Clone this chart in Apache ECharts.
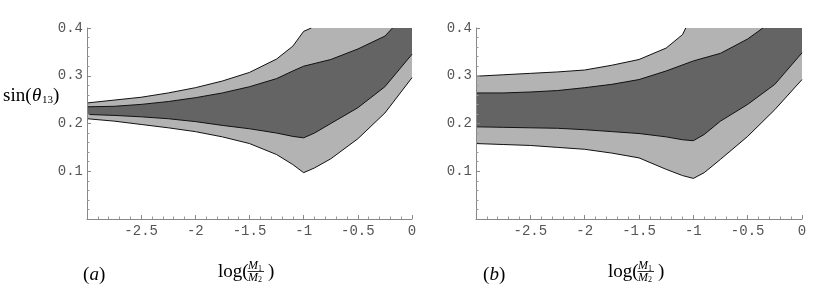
<!DOCTYPE html>
<html>
<head>
<meta charset="utf-8">
<script src="https://cdn.jsdelivr.net/npm/echarts@6/dist/echarts.min.js"></script>
<style>
html,body{margin:0;padding:0;background:#fff;}
#chart{width:816px;height:300px;}
</style>
</head>
<body>
<div id="chart"></div>
<script>
// ---- data (x = log(M1/M2), y = sin(theta13)) ----
// panel (a)
const aOuterUpper = [[-3,0.243],[-2.75,0.249],[-2.5,0.255],[-2.25,0.264],[-2,0.275],[-1.75,0.289],[-1.5,0.307],[-1.25,0.335],[-1.1,0.362],[-1,0.393],[-0.93,0.4],[0,0.4]];
const aInnerUpper = [[-3,0.235],[-2.75,0.236],[-2.5,0.240],[-2.25,0.246],[-2,0.254],[-1.75,0.264],[-1.5,0.277],[-1.25,0.294],[-1.1,0.310],[-1,0.320],[-0.75,0.334],[-0.5,0.356],[-0.25,0.383],[-0.18,0.4],[0,0.4]];
const aInnerLower = [[-3,0.219],[-2.75,0.217],[-2.5,0.214],[-2.25,0.210],[-2,0.204],[-1.75,0.196],[-1.5,0.189],[-1.25,0.180],[-1.1,0.173],[-1,0.170],[-0.9,0.180],[-0.75,0.200],[-0.5,0.233],[-0.25,0.277],[0,0.345]];
const aOuterLower = [[-3,0.210],[-2.75,0.205],[-2.5,0.198],[-2.25,0.191],[-2,0.183],[-1.75,0.172],[-1.5,0.158],[-1.25,0.135],[-1.1,0.114],[-1,0.097],[-0.9,0.107],[-0.75,0.126],[-0.5,0.168],[-0.25,0.222],[0,0.296]];
// panel (b)
const bOuterUpper = [[-3,0.299],[-2.75,0.302],[-2.5,0.305],[-2.25,0.308],[-2,0.312],[-1.75,0.322],[-1.5,0.334],[-1.25,0.358],[-1.1,0.386],[-1.07,0.4],[0,0.4]];
const bInnerUpper = [[-3,0.264],[-2.75,0.264],[-2.5,0.266],[-2.25,0.269],[-2,0.275],[-1.75,0.282],[-1.5,0.292],[-1.25,0.310],[-1,0.331],[-0.75,0.347],[-0.5,0.377],[-0.36,0.4],[0,0.4]];
const bInnerLower = [[-3,0.193],[-2.75,0.192],[-2.5,0.191],[-2.25,0.190],[-2,0.187],[-1.75,0.183],[-1.5,0.179],[-1.25,0.172],[-1.1,0.166],[-1,0.164],[-0.9,0.177],[-0.75,0.205],[-0.5,0.240],[-0.25,0.282],[0,0.348]];
const bOuterLower = [[-3,0.158],[-2.75,0.156],[-2.5,0.154],[-2.25,0.150],[-2,0.146],[-1.75,0.138],[-1.5,0.128],[-1.25,0.104],[-1.1,0.091],[-1,0.085],[-0.9,0.097],[-0.75,0.125],[-0.5,0.173],[-0.25,0.229],[0,0.292]];

const xRange = [-3, 0];
const yRange = [0, 0.4];
const panelTags = ['a', 'b'];

// ---- styling ----
const DARK = '#646464', LIGHT = '#b3b3b3', EDGE = '#111';
const MONO = '"Liberation Mono", "DejaVu Sans Mono", monospace';
const SERIF = '"Liberation Serif", "DejaVu Serif", serif';

function xAxisCfg(gi){
  return {type:'value', gridIndex:gi, min:xRange[0], max:xRange[1], interval:0.5, z:10,
    axisLine:{show:true, onZero:false, lineStyle:{color:'#888', width:1}},
    axisTick:{show:true, inside:true, length:4, lineStyle:{color:'#888'}},
    minorTick:{show:true, splitNumber:5, length:2.5, lineStyle:{color:'#999'}},
    splitLine:{show:false},
    axisLabel:{showMinLabel:false, margin:5, color:'#555', fontFamily:MONO, fontSize:14}};
}
function yAxisCfg(gi){
  return {type:'value', gridIndex:gi, min:yRange[0], max:yRange[1], interval:0.1, z:10,
    axisLine:{show:true, onZero:false, lineStyle:{color:'#888', width:1}},
    axisTick:{show:true, inside:true, length:4, lineStyle:{color:'#888'}},
    minorTick:{show:true, splitNumber:5, length:2.5, lineStyle:{color:'#999'}},
    splitLine:{show:false},
    axisLabel:{showMinLabel:false, margin:4, color:'#555', fontFamily:MONO, fontSize:14}};
}
function upTo04(arr){
  const out = [];
  for (const p of arr){ out.push(p); if (p[1] >= yRange[1]) break; }
  return out;
}
function areaSeries(gi, data, color){
  return {type:'line', xAxisIndex:gi, yAxisIndex:gi, data:data, showSymbol:false, silent:true,
    lineStyle:{width:0, opacity:0}, areaStyle:{color:color, opacity:1, origin:'start'}, z:2};
}
function edgeSeries(gi, data){
  return {type:'line', xAxisIndex:gi, yAxisIndex:gi, data:upTo04(data), showSymbol:false, silent:true,
    lineStyle:{width:1, color:EDGE}, z:3};
}
function panelSeries(gi, ou, iu, il, ol){
  return [
    areaSeries(gi, ou, LIGHT), areaSeries(gi, iu, DARK), areaSeries(gi, il, LIGHT), areaSeries(gi, ol, '#ffffff'),
    edgeSeries(gi, ou), edgeSeries(gi, iu), edgeSeries(gi, il), edgeSeries(gi, ol)
  ];
}

function txt(x, y, text, font, align){
  return {type:'text', x:x, y:y, silent:true,
    style:{text:text, font:font, fill:'#000', align:align||'left', verticalAlign:'middle'}};
}
function logLabel(x0){
  return [
    txt(x0, 272, 'log(', '19px ' + SERIF),
    txt(x0+30, 266, 'M', 'italic 12px ' + SERIF),
    txt(x0+40, 268.5, '1', '8px ' + SERIF),
    {type:'line', silent:true, shape:{x1:x0+29.5, y1:271.5, x2:x0+46, y2:271.5}, style:{stroke:'#000', lineWidth:0.8}},
    txt(x0+30, 277.5, 'M', 'italic 12px ' + SERIF),
    txt(x0+40, 280, '2', '8px ' + SERIF),
    txt(x0+50, 272, ')', '19px ' + SERIF)
  ];
}
function tagLabel(x0, tag){
  return [
    txt(x0, 275, '(', '19px ' + SERIF),
    txt(x0+6.5, 275, tag, 'italic 19px ' + SERIF),
    txt(x0+16, 275, ')', '19px ' + SERIF)
  ];
}

const chart = echarts.init(document.getElementById('chart'), null, {renderer:'canvas'});
chart.setOption({
  animation:false,
  backgroundColor:'#fff',
  grid:[
    {left:87, top:28, width:325, height:191},
    {left:476, top:28, width:326, height:191}
  ],
  xAxis:[xAxisCfg(0), xAxisCfg(1)],
  yAxis:[yAxisCfg(0), yAxisCfg(1)],
  series:[].concat(
    panelSeries(0, aOuterUpper, aInnerUpper, aInnerLower, aOuterLower),
    panelSeries(1, bOuterUpper, bInnerUpper, bInnerLower, bOuterLower)
  ),
  graphic:[].concat(
    [txt(3, 96, 'sin(', '19px ' + SERIF),
     txt(32, 96, 'θ', 'italic 19px ' + SERIF),
     txt(42, 100, '13', '11px ' + SERIF),
     txt(53, 96, ')', '19px ' + SERIF)],
    tagLabel(83, panelTags[0]), logLabel(218),
    tagLabel(483, panelTags[1]), logLabel(608)
  )
});
</script>
</body>
</html>
